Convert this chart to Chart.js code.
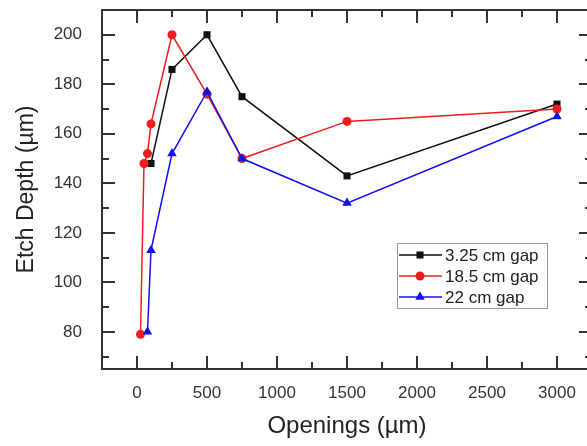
<!DOCTYPE html>
<html>
<head>
<meta charset="utf-8">
<script src="https://cdn.jsdelivr.net/npm/chart.js@4"></script>
<style>
  html, body { margin: 0; padding: 0; background: #fff; overflow: hidden; }
  #wrap { width: 600px; height: 446px; }
</style>
</head>
<body>
<div id="wrap"><canvas id="etchChart" width="600" height="446"></canvas></div>
<script>
// data
const seriesLabels = ['3.25 cm gap', '18.5 cm gap', '22 cm gap'];
const openingsBlack = [100, 250, 500, 750, 1500, 3000];
const depthBlack = [148, 186, 200, 175, 143, 172];
const openingsRed = [25, 50, 75, 100, 250, 500, 750, 1500, 3000];
const depthRed = [79, 148, 152, 164, 200, 176, 150, 165, 170];
const openingsBlue = [75, 100, 250, 500, 750, 1500, 3000];
const depthBlue = [80, 113, 152, 177, 150, 132, 167];

const xTicks = [0, 500, 1000, 1500, 2000, 2500, 3000];
const xMinorTicks = [-250, 250, 750, 1250, 1750, 2250, 2750, 3250];
const yTicks = [80, 100, 120, 140, 160, 180, 200];
const yMinorTicks = [70, 90, 110, 130, 150, 170, 190, 210];

const FONT = "'Liberation Sans', Arial, sans-serif";
const AXIS_COLOR = '#333';

function toPoints(xs, ys) {
    return xs.map((x, i) => ({ x: x, y: ys[i] }));
}

const styles = [
    { color: '#111', point: 'rect', radius: 5 },
    { color: '#ee1c1c', point: 'circle', radius: 4.5 },
    { color: '#1010ee', point: 'triangle', radius: 5.5 }
];

function drawMarker(ctx, style, x, y) {
    const r = style.radius;
    ctx.fillStyle = style.color;
    ctx.beginPath();
    if (style.point === 'rect') {
        const s = r * Math.SQRT1_2;
        ctx.rect(x - s, y - s, 2 * s, 2 * s);
    } else if (style.point === 'circle') {
        ctx.arc(x, y, r, 0, Math.PI * 2);
    } else {
        for (let k = 0; k < 3; k++) {
            const a = k * 2 * Math.PI / 3;
            const px = x + Math.sin(a) * r, py = y - Math.cos(a) * r;
            k === 0 ? ctx.moveTo(px, py) : ctx.lineTo(px, py);
        }
        ctx.closePath();
    }
    ctx.fill();
}

// box frame with inward ticks on all four sides, plus the boxed legend
const framePlugin = {
    id: 'frame',
    afterDraw(chart) {
        const { ctx, chartArea: a, scales: { x, y } } = chart;
        ctx.save();
        ctx.strokeStyle = AXIS_COLOR;
        ctx.lineWidth = 2;
        ctx.strokeRect(a.left, a.top, a.right - a.left, a.bottom - a.top);

        const seg = (x1, y1, x2, y2) => { ctx.beginPath(); ctx.moveTo(x1, y1); ctx.lineTo(x2, y2); ctx.stroke(); };
        const tickX = (v, len) => {
            const px = Math.round(x.getPixelForValue(v));
            seg(px, a.bottom, px, a.bottom - len);
            seg(px, a.top, px, a.top + len);
        };
        const tickY = (v, len) => {
            const py = Math.round(y.getPixelForValue(v));
            seg(a.left, py, a.left + len, py);
            seg(a.right, py, a.right - len, py);
        };
        xTicks.forEach(v => tickX(v, 13));
        xMinorTicks.forEach(v => tickX(v, 7));
        yTicks.forEach(v => tickY(v, 13));
        yMinorTicks.forEach(v => tickY(v, 7));

        // legend
        const box = { left: 397, top: 243, width: 150, height: 65 };
        ctx.lineWidth = 1;
        ctx.strokeStyle = '#999';
        ctx.fillStyle = '#fff';
        ctx.fillRect(box.left, box.top, box.width, box.height);
        ctx.strokeRect(box.left + 0.5, box.top + 0.5, box.width, box.height);
        ctx.font = '17px ' + FONT;
        ctx.textBaseline = 'middle';
        chart.data.datasets.forEach((ds, i) => {
            const st = styles[i];
            const cy = box.top + 12 + i * 21;
            ctx.strokeStyle = st.color;
            ctx.lineWidth = 1.5;
            seg(box.left + 2, cy, box.left + 45, cy);
            drawMarker(ctx, st, box.left + 23, cy);
            ctx.fillStyle = '#222';
            ctx.fillText(ds.label, box.left + 48, cy + 1);
        });
        ctx.restore();
    }
};

const seriesX = [openingsBlack, openingsRed, openingsBlue];
const seriesY = [depthBlack, depthRed, depthBlue];

const datasets = seriesLabels.map((label, i) => ({
    label: label,
    data: toPoints(seriesX[i], seriesY[i]),
    borderColor: styles[i].color,
    backgroundColor: styles[i].color,
    borderWidth: 1.5,
    pointStyle: styles[i].point,
    pointRadius: styles[i].radius,
    pointBorderWidth: 0,
    tension: 0,
    order: 3 - i
}));

new Chart(document.getElementById('etchChart'), {
    type: 'line',
    data: { datasets: datasets },
    plugins: [framePlugin],
    options: {
        responsive: false,
        animation: false,
        layout: { padding: { left: 0, top: 10, right: 8, bottom: 0 } },
        plugins: { legend: { display: false }, tooltip: { enabled: false } },
        scales: {
            x: {
                type: 'linear',
                min: -250, max: 3250,
                grid: { display: false },
                border: { display: false },
                afterBuildTicks: s => { s.ticks = xTicks.map(v => ({ value: v })); },
                afterFit: s => { s.height = 77; s.paddingLeft = 0; s.paddingRight = 0; },
                ticks: { color: AXIS_COLOR, padding: 6, maxRotation: 0, callback: v => String(v), font: { family: FONT, size: 17 } },
                title: { display: true, text: 'Openings (µm)', color: '#222', padding: { top: 0, bottom: 5 }, font: { family: FONT, size: 24 } }
            },
            y: {
                type: 'linear',
                min: 65, max: 210,
                grid: { display: false },
                border: { display: false },
                afterBuildTicks: s => { s.ticks = yTicks.map(v => ({ value: v })); },
                afterFit: s => { s.width = 102; s.paddingTop = 0; s.paddingBottom = 0; },
                ticks: { color: AXIS_COLOR, padding: 12, callback: v => String(v), font: { family: FONT, size: 17 } },
                title: { display: true, text: 'Etch Depth (µm)', color: '#222', padding: { top: 13, bottom: 0 }, font: { family: FONT, size: 23 } }
            }
        }
    }
});
</script>
</body>
</html>
